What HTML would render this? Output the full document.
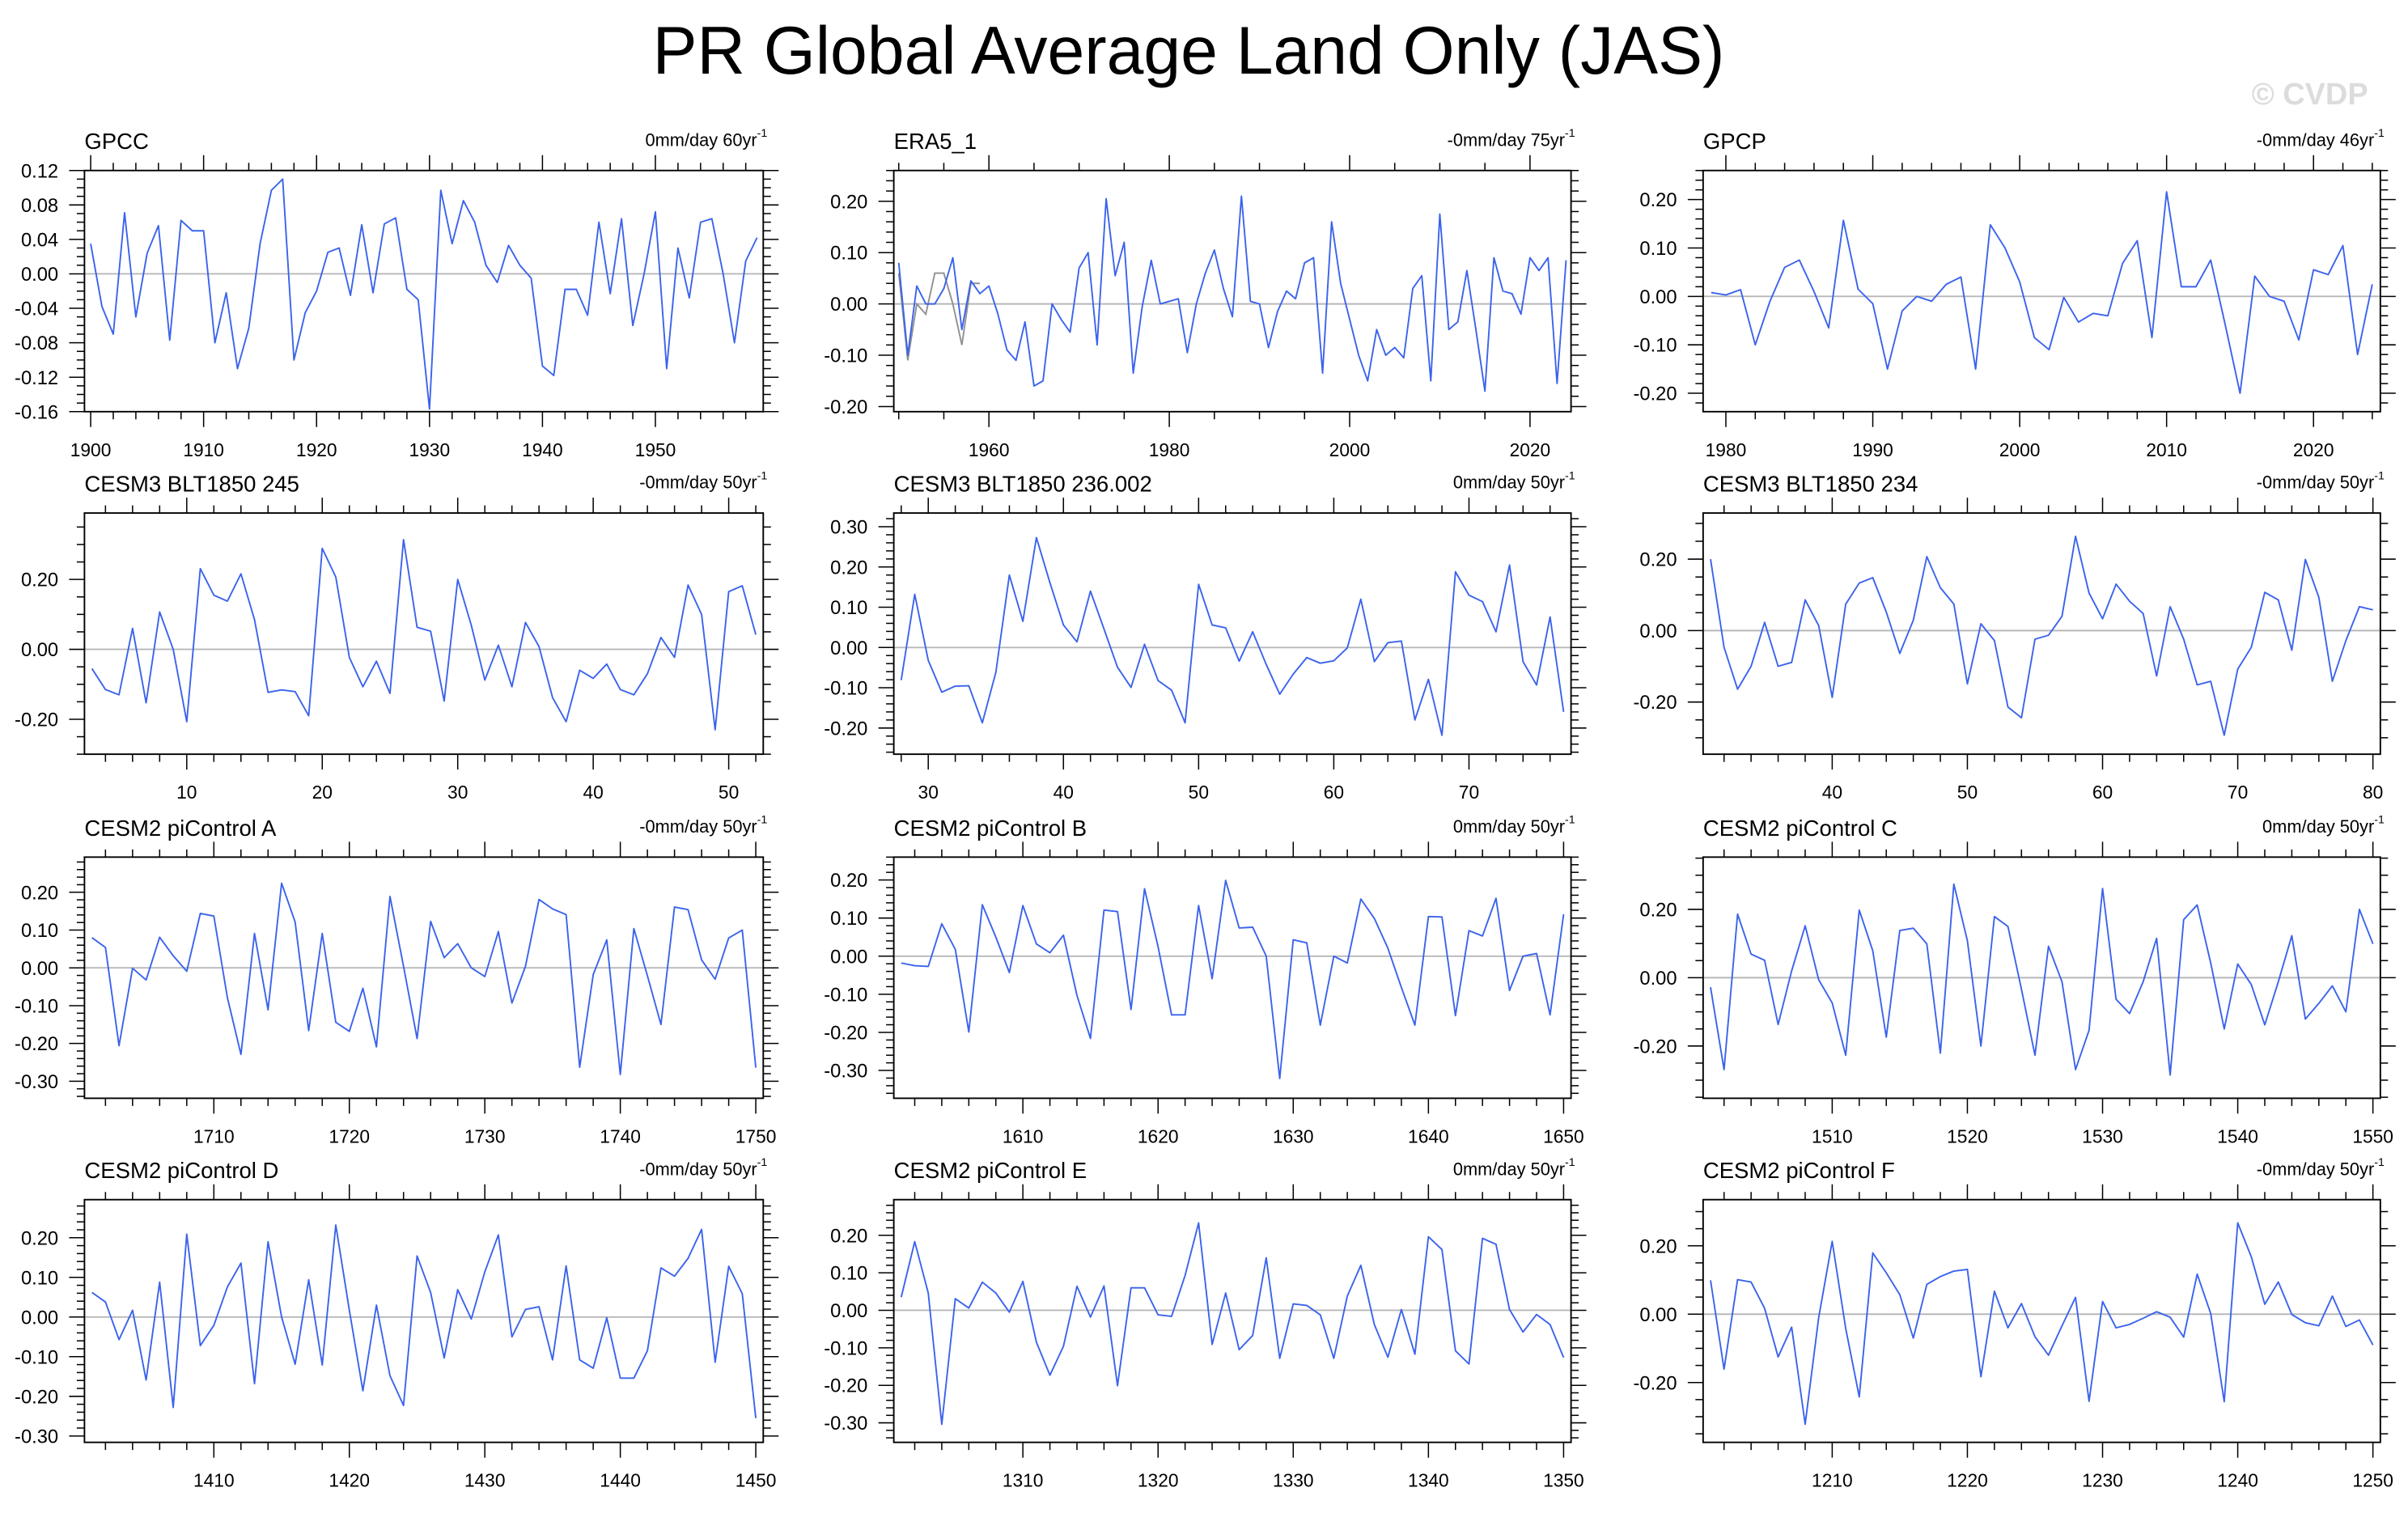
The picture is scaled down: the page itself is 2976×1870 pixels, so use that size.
<!DOCTYPE html>
<html><head><meta charset="utf-8">
<style>
html,body{margin:0;padding:0;background:#fff;}
svg{display:block;font-family:"Liberation Sans",Arial,sans-serif;}
</style></head>
<body>
<svg id="fig" width="2976" height="1870" viewBox="0 0 1568 985" preserveAspectRatio="none" xmlns="http://www.w3.org/2000/svg">
<text x="774" y="48" font-size="44" text-anchor="middle" textLength="698" lengthAdjust="spacingAndGlyphs">PR Global Average Land Only (JAS)</text>
<text x="1542" y="68" font-size="20" font-weight="bold" fill="#dcdcdc" text-anchor="end">© CVDP</text>
</svg>
<script>
// ---- data arrays ----
const gpccStart = 1900;
const gpccValues = [0.035,-0.038,-0.07,0.071,-0.05,0.024,0.056,-0.077,0.062,0.05,0.05,-0.08,-0.022,-0.11,-0.063,0.035,0.097,0.11,-0.1,-0.045,-0.02,0.025,0.03,-0.025,0.057,-0.022,0.058,0.065,-0.018,-0.03,-0.157,0.097,0.035,0.085,0.06,0.01,-0.01,0.033,0.01,-0.005,-0.107,-0.118,-0.018,-0.018,-0.048,0.06,-0.023,0.064,-0.06,0.0,0.072,-0.11,0.03,-0.028,0.06,0.064,0.0,-0.08,0.015,0.042];
const era5Start = 1950;
const era5Values = [0.08,-0.1,0.035,0.0,0.0,0.03,0.09,-0.05,0.045,0.02,0.035,-0.02,-0.09,-0.11,-0.035,-0.16,-0.15,0.0,-0.03,-0.055,0.07,0.1,-0.08,0.205,0.055,0.12,-0.135,-0.005,0.085,0.0,0.005,0.01,-0.095,0.0,0.06,0.105,0.03,-0.025,0.21,0.005,0.0,-0.085,-0.015,0.025,0.01,0.08,0.09,-0.135,0.16,0.04,-0.03,-0.1,-0.15,-0.05,-0.1,-0.085,-0.105,0.03,0.055,-0.15,0.175,-0.05,-0.035,0.065,-0.05,-0.17,0.09,0.025,0.02,-0.02,0.09,0.065,0.09,-0.155,0.085];
const era5AltValues = [0.06,-0.11,0.0,-0.02,0.06,0.06,0.0,-0.08,0.04,0.04];
const gpcpStart = 1979;
const gpcpValues = [0.008,0.003,0.014,-0.1,-0.01,0.06,0.075,0.01,-0.065,0.157,0.015,-0.015,-0.15,-0.03,0.0,-0.01,0.025,0.04,-0.15,0.148,0.1,0.03,-0.085,-0.11,-0.002,-0.053,-0.035,-0.04,0.068,0.115,-0.085,0.216,0.02,0.02,0.075,-0.06,-0.2,0.042,0.0,-0.01,-0.09,0.055,0.045,0.105,-0.12,0.025];
const blt245Start = 3;
const blt245Values = [-0.055,-0.115,-0.13,0.06,-0.153,0.107,0.0,-0.207,0.231,0.155,0.138,0.216,0.085,-0.123,-0.116,-0.121,-0.19,0.289,0.207,-0.023,-0.107,-0.034,-0.126,0.314,0.063,0.052,-0.148,0.2,0.069,-0.088,0.012,-0.107,0.077,0.008,-0.138,-0.207,-0.06,-0.083,-0.042,-0.115,-0.13,-0.07,0.034,-0.023,0.184,0.1,-0.23,0.165,0.182,0.042];
const blt236Start = 28;
const blt236Values = [-0.081,0.132,-0.032,-0.111,-0.096,-0.095,-0.187,-0.062,0.18,0.065,0.273,0.161,0.056,0.014,0.14,0.046,-0.049,-0.099,0.008,-0.082,-0.106,-0.187,0.157,0.056,0.049,-0.034,0.039,-0.042,-0.116,-0.066,-0.025,-0.039,-0.033,-0.001,0.12,-0.035,0.012,0.016,-0.18,-0.079,-0.218,0.188,0.13,0.114,0.039,0.205,-0.035,-0.093,0.076,-0.16];
const blt234Start = 31;
const blt234Values = [0.2,-0.047,-0.164,-0.1,0.023,-0.1,-0.089,0.086,0.014,-0.187,0.074,0.133,0.148,0.052,-0.064,0.029,0.207,0.12,0.074,-0.149,0.019,-0.028,-0.214,-0.244,-0.024,-0.013,0.04,0.264,0.105,0.033,0.13,0.082,0.048,-0.127,0.067,-0.024,-0.152,-0.142,-0.293,-0.108,-0.047,0.107,0.086,-0.055,0.199,0.093,-0.142,-0.028,0.067,0.058];
const picAStart = 1701;
const picAValues = [0.08,0.054,-0.206,-0.001,-0.032,0.081,0.032,-0.009,0.144,0.137,-0.079,-0.229,0.091,-0.111,0.224,0.121,-0.166,0.091,-0.144,-0.168,-0.054,-0.209,0.189,0.004,-0.187,0.123,0.027,0.064,0.0,-0.023,0.096,-0.093,0.004,0.181,0.156,0.141,-0.263,-0.018,0.074,-0.282,0.104,-0.021,-0.15,0.161,0.154,0.021,-0.03,0.079,0.1,-0.264];
const picBStart = 1601;
const picBValues = [-0.018,-0.025,-0.027,0.085,0.018,-0.199,0.135,0.05,-0.043,0.133,0.032,0.009,0.055,-0.103,-0.216,0.121,0.117,-0.14,0.177,0.025,-0.154,-0.154,0.133,-0.059,0.199,0.074,0.076,0.0,-0.321,0.043,0.035,-0.181,0.0,-0.018,0.15,0.099,0.021,-0.082,-0.181,0.104,0.103,-0.156,0.067,0.053,0.152,-0.09,0.0,0.007,-0.154,0.11];
const picCStart = 1501;
const picCValues = [-0.028,-0.269,0.186,0.069,0.051,-0.137,0.02,0.152,-0.006,-0.074,-0.227,0.198,0.079,-0.174,0.138,0.145,0.099,-0.221,0.274,0.108,-0.2,0.179,0.15,-0.034,-0.227,0.092,-0.012,-0.269,-0.154,0.261,-0.063,-0.105,-0.012,0.115,-0.285,0.17,0.213,0.043,-0.15,0.04,-0.02,-0.138,-0.012,0.123,-0.121,-0.075,-0.024,-0.1,0.2,0.099];
const picDStart = 1401;
const picDValues = [0.062,0.038,-0.057,0.017,-0.159,0.088,-0.228,0.209,-0.072,-0.021,0.076,0.136,-0.168,0.19,0.0,-0.119,0.094,-0.121,0.232,0.017,-0.186,0.03,-0.148,-0.223,0.154,0.062,-0.103,0.069,-0.005,0.114,0.207,-0.05,0.019,0.026,-0.108,0.129,-0.108,-0.129,-0.002,-0.154,-0.154,-0.085,0.124,0.103,0.148,0.221,-0.114,0.128,0.059,-0.255];
const picEStart = 1301;
const picEValues = [0.035,0.183,0.046,-0.304,0.031,0.006,0.075,0.046,-0.005,0.077,-0.085,-0.173,-0.096,0.064,-0.018,0.065,-0.201,0.06,0.06,-0.012,-0.016,0.093,0.233,-0.091,0.046,-0.105,-0.067,0.14,-0.128,0.017,0.013,-0.012,-0.128,0.038,0.12,-0.038,-0.125,0.002,-0.117,0.196,0.162,-0.108,-0.143,0.192,0.176,0.002,-0.058,-0.011,-0.038,-0.126];
const picFStart = 1201;
const picFValues = [0.099,-0.161,0.101,0.094,0.017,-0.125,-0.038,-0.322,-0.01,0.213,-0.042,-0.242,0.179,0.121,0.057,-0.07,0.087,0.11,0.126,0.131,-0.183,0.067,-0.04,0.031,-0.066,-0.12,-0.034,0.049,-0.255,0.037,-0.04,-0.03,-0.012,0.007,-0.009,-0.067,0.117,0.002,-0.256,0.267,0.168,0.029,0.094,-0.001,-0.025,-0.034,0.053,-0.036,-0.017,-0.09];
const panelTitles = ["GPCC","ERA5_1","GPCP","CESM3 BLT1850 245","CESM3 BLT1850 236.002","CESM3 BLT1850 234","CESM2 piControl A","CESM2 piControl B","CESM2 piControl C","CESM2 piControl D","CESM2 piControl E","CESM2 piControl F"];
const trendLabels = ["0mm/day 60yr","-0mm/day 75yr","-0mm/day 46yr","-0mm/day 50yr","0mm/day 50yr","-0mm/day 50yr","-0mm/day 50yr","0mm/day 50yr","0mm/day 50yr","-0mm/day 50yr","0mm/day 50yr","-0mm/day 50yr"];

// ---- layout ----
const colX = [[55,497],[582,1023],[1109,1550]];
const rowY = [[111,268],[334,491],[558,715],[781,939]];
const panels = [
 {s:gpccStart,v:gpccValues,y0:-0.16,y1:0.12,ymaj:0.04,ymin:0.01,xmaj:10,xmin:2,alt:null},
 {s:era5Start,v:era5Values,y0:-0.21,y1:0.26,ymaj:0.1,ymin:0.02,xmaj:20,xmin:5,alt:era5AltValues},
 {s:gpcpStart,v:gpcpValues,y0:-0.238,y1:0.26,ymaj:0.1,ymin:0.02,xmaj:10,xmin:2,alt:null},
 {s:blt245Start,v:blt245Values,y0:-0.30,y1:0.39,ymaj:0.2,ymin:0.05,xmaj:10,xmin:2,alt:null},
 {s:blt236Start,v:blt236Values,y0:-0.265,y1:0.334,ymaj:0.1,ymin:0.02,xmaj:10,xmin:2,alt:null},
 {s:blt234Start,v:blt234Values,y0:-0.346,y1:0.329,ymaj:0.2,ymin:0.05,xmaj:10,xmin:2,alt:null},
 {s:picAStart,v:picAValues,y0:-0.345,y1:0.293,ymaj:0.1,ymin:0.02,xmaj:10,xmin:2,alt:null},
 {s:picBStart,v:picBValues,y0:-0.373,y1:0.26,ymaj:0.1,ymin:0.02,xmaj:10,xmin:2,alt:null},
 {s:picCStart,v:picCValues,y0:-0.353,y1:0.353,ymaj:0.2,ymin:0.05,xmaj:10,xmin:2,alt:null},
 {s:picDStart,v:picDValues,y0:-0.316,y1:0.296,ymaj:0.1,ymin:0.02,xmaj:10,xmin:2,alt:null},
 {s:picEStart,v:picEValues,y0:-0.352,y1:0.295,ymaj:0.1,ymin:0.02,xmaj:10,xmin:2,alt:null},
 {s:picFStart,v:picFValues,y0:-0.375,y1:0.335,ymaj:0.2,ymin:0.05,xmaj:10,xmin:2,alt:null}
];
const NS = "http://www.w3.org/2000/svg";
const svg = document.getElementById('fig');
function mk(tag, attrs, parent){
  const e = document.createElementNS(NS, tag);
  for (const k in attrs) e.setAttribute(k, attrs[k]);
  (parent||svg).appendChild(e);
  return e;
}
function fmt(v){ const r = Math.round(v*100)/100; return (Math.abs(r)<1e-9?0:r).toFixed(2); }

panels.forEach((p,i)=>{
  const c = i%3, r = Math.floor(i/3);
  const L = colX[c][0], R = colX[c][1], T = rowY[r][0], B = rowY[r][1];
  const n = p.v.length;
  const xa = p.s - 0.55, xb = p.s + n - 1 + 0.55;
  const X = yr => L + (yr - xa) / (xb - xa) * (R - L);
  const Y = v => B - (v - p.y0) / (p.y1 - p.y0) * (B - T);
  const g = mk('g', {});
  
  

  const t = mk('text', {x:L, y:T-14, 'font-size':14.5}, g);
  t.textContent = panelTitles[i];
  
  
  const tr = mk('text', {x:R-4, y:T-16, 'font-size':11.5, 'text-anchor':'end'}, g);
  tr.textContent = trendLabels[i];
  
  
  const sup = mk('text', {x:R-4, y:T-22, 'font-size':7.5}, g);
  sup.textContent = '-1';
  
  

  const z = mk('line', {x1:L, x2:R, y1:Y(0), y2:Y(0), stroke:'#b8b8b8', 'stroke-width':1}, g);
  
  

  const ys = Math.ceil(p.y0/p.ymin - 1e-6), ye = Math.floor(p.y1/p.ymin + 1e-6);
  for (let k=ys; k<=ye; k++){
    const v = k*p.ymin;
    const major = Math.abs(v/p.ymaj - Math.round(v/p.ymaj)) < 1e-6;
    const len = major ? 10 : 5;
    const yy = Y(v);
    mk('line', {x1:L-len, x2:L, y1:yy, y2:yy, stroke:'#000', 'stroke-width':0.8}, g);
    mk('line', {x1:R, x2:R+len, y1:yy, y2:yy, stroke:'#000', 'stroke-width':0.8}, g);
    if (major){
      const lb = mk('text', {x:L-17, y:yy+4.5, 'font-size':12.5, 'text-anchor':'end'}, g);
      lb.textContent = fmt(v);
      
      
    }
  }
  const xs = Math.ceil(xa/p.xmin), xe = Math.floor(xb/p.xmin);
  for (let k=xs; k<=xe; k++){
    const yr = k*p.xmin;
    const major = yr % p.xmaj === 0;
    const len = major ? 10 : 5;
    const xx = X(yr);
    mk('line', {x1:xx, x2:xx, y1:T-len, y2:T, stroke:'#000', 'stroke-width':0.8}, g);
    mk('line', {x1:xx, x2:xx, y1:B, y2:B+len, stroke:'#000', 'stroke-width':0.8}, g);
    if (major){
      const lb = mk('text', {x:xx, y:B+29, 'font-size':12, 'text-anchor':'middle'}, g);
      lb.textContent = String(yr);
      
      
    }
  }
  if (p.alt){
    const pa = p.alt.map((v,j)=>X(p.s+j).toFixed(2)+','+Y(v).toFixed(2)).join(' ');
    const la = mk('polyline', {points:pa, fill:'none', stroke:'#909090', 'stroke-width':1}, g);
    
    
  }
  const pts = p.v.map((v,j)=>X(p.s+j).toFixed(2)+','+Y(v).toFixed(2)).join(' ');
  const ln = mk('polyline', {points:pts, fill:'none', stroke:'#3b63ec', 'stroke-width':1, 'stroke-linejoin':'round'}, g);
  
  

  const fr = mk('rect', {x:L, y:T, width:R-L, height:B-T, fill:'none', stroke:'#000', 'stroke-width':1}, g);
  
  
});
</script>
</body></html>
